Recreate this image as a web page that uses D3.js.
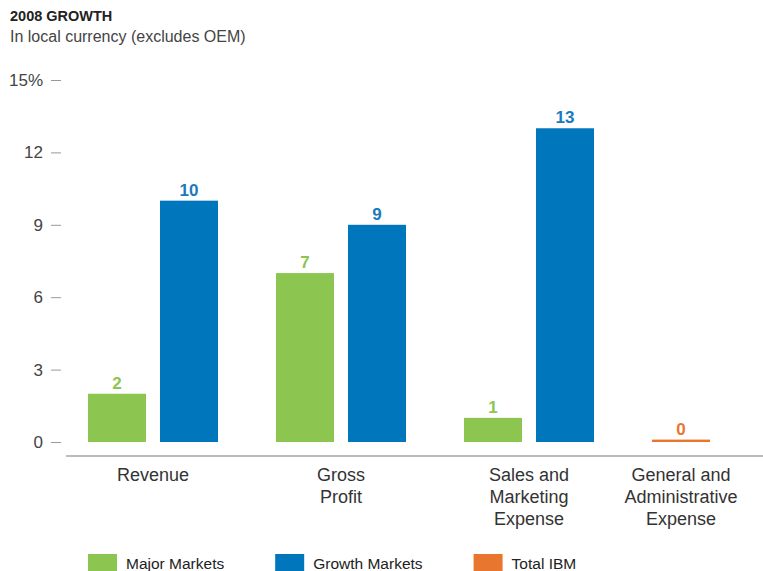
<!DOCTYPE html>
<html>
<head>
    <meta charset="UTF-8" />
    <script src="https://d3js.org/d3.v7.min.js"></script>
    <style>
        body { margin: 0; background: #fff; }
        svg { display: block; font-family: "Liberation Sans", Arial, Helvetica, sans-serif; }
    </style>
</head>
<body>
    <div id="chart"></div>
    <script>
        // 2008 growth, percent, local currency
        const categories = ["Revenue", "Gross\nProfit", "Sales and\nMarketing\nExpense", "General and\nAdministrative\nExpense"];
        const seriesNames = ["Major Markets", "Growth Markets", "Total IBM"];
        const majorMarkets = [2, 7, 1, null];
        const growthMarkets = [10, 9, 13, null];
        const totalIBM = [null, null, null, 0.1];
        const yTicks = [0, 3, 6, 9, 12, 15];

        const colors = ["#8cc54f", "#0077bd", "#e8762e"];
        const labelColors = ["#8cc54f", "#1a7ac0", "#e8762e"];

        const width = 763, height = 571;
        const barW = 58, barGap = 14, groupGap = 58, startX = 88;
        const legendGap = 51;

        const svg = d3.select("#chart").append("svg")
            .attr("width", width)
            .attr("height", height);

        svg.append("text")
            .attr("x", 10).attr("y", 21)
            .attr("font-size", 14.5).attr("font-weight", "bold").attr("fill", "#222")
            .text("2008 GROWTH");
        svg.append("text")
            .attr("x", 10).attr("y", 42)
            .attr("font-size", 16).attr("fill", "#444")
            .text("In local currency (excludes OEM)");

        const y = d3.scaleLinear().domain([0, 15]).range([442, 80]);

        // y axis
        const yAxis = svg.append("g")
            .attr("transform", "translate(61,0)")
            .call(d3.axisLeft(y).tickValues(yTicks).tickSize(10).tickPadding(8)
                .tickFormat(d => d === 15 ? "15%" : d));
        yAxis.select(".domain").remove();
        yAxis.selectAll(".tick line").attr("stroke", "#999");
        yAxis.selectAll(".tick text")
            .attr("font-size", 17).attr("fill", "#444")
            .attr("font-family", "Liberation Sans, Arial, sans-serif");

        // groups: pack each category by the number of series present
        const data = categories.map((c, i) => ({
            cat: c,
            bars: [majorMarkets[i], growthMarkets[i], totalIBM[i]]
                .map((v, s) => ({ s, v }))
                .filter(d => d.v != null)
        }));
        let cursor = startX;
        data.forEach(g => {
            g.w = g.bars.length * barW + (g.bars.length - 1) * barGap;
            g.x = cursor;
            cursor += g.w + groupGap;
        });

        const groups = svg.selectAll("g.group")
            .data(data)
            .join("g")
            .attr("class", "group")
            .attr("transform", d => `translate(${d.x},0)`);

        groups.each(function(g) {
            const x1 = d3.scaleBand()
                .domain(g.bars.map(b => b.s))
                .range([0, g.w])
                .paddingInner(g.bars.length > 1 ? barGap / (barW + barGap) : 0);
            const sel = d3.select(this);
            sel.selectAll("rect")
                .data(g.bars)
                .join("rect")
                .attr("x", b => x1(b.s))
                .attr("width", x1.bandwidth())
                .attr("y", b => y(b.v))
                .attr("height", b => y(0) - y(b.v))
                .attr("fill", b => colors[b.s]);
            sel.selectAll("text.val")
                .data(g.bars)
                .join("text")
                .attr("class", "val")
                .attr("x", b => x1(b.s) + x1.bandwidth() / 2)
                .attr("y", b => y(b.v) - 5)
                .attr("text-anchor", "middle")
                .attr("font-size", 17).attr("font-weight", "bold")
                .attr("fill", b => labelColors[b.s])
                .text(b => d3.format(".0f")(b.v));
            sel.append("text")
                .attr("text-anchor", "middle")
                .attr("font-size", 18).attr("fill", "#333")
                .selectAll("tspan")
                .data(g.cat.split("\n"))
                .join("tspan")
                .attr("x", g.w / 2)
                .attr("y", (d, i) => 481 + i * 22)
                .text(d => d);
        });

        // baseline
        svg.append("line")
            .attr("x1", 66).attr("x2", width)
            .attr("y1", 456).attr("y2", 456)
            .attr("stroke", "#bbb").attr("stroke-width", 2);

        // legend
        let lx = startX;
        seriesNames.forEach((name, i) => {
            svg.append("rect")
                .attr("x", lx).attr("y", 554)
                .attr("width", 29).attr("height", 18)
                .attr("fill", colors[i]);
            const t = svg.append("text")
                .attr("x", lx + 38).attr("y", 569)
                .attr("font-size", 15.5).attr("fill", "#222")
                .text(name);
            lx += 38 + t.node().getComputedTextLength() + legendGap;
        });
    </script>
</body>
</html>
